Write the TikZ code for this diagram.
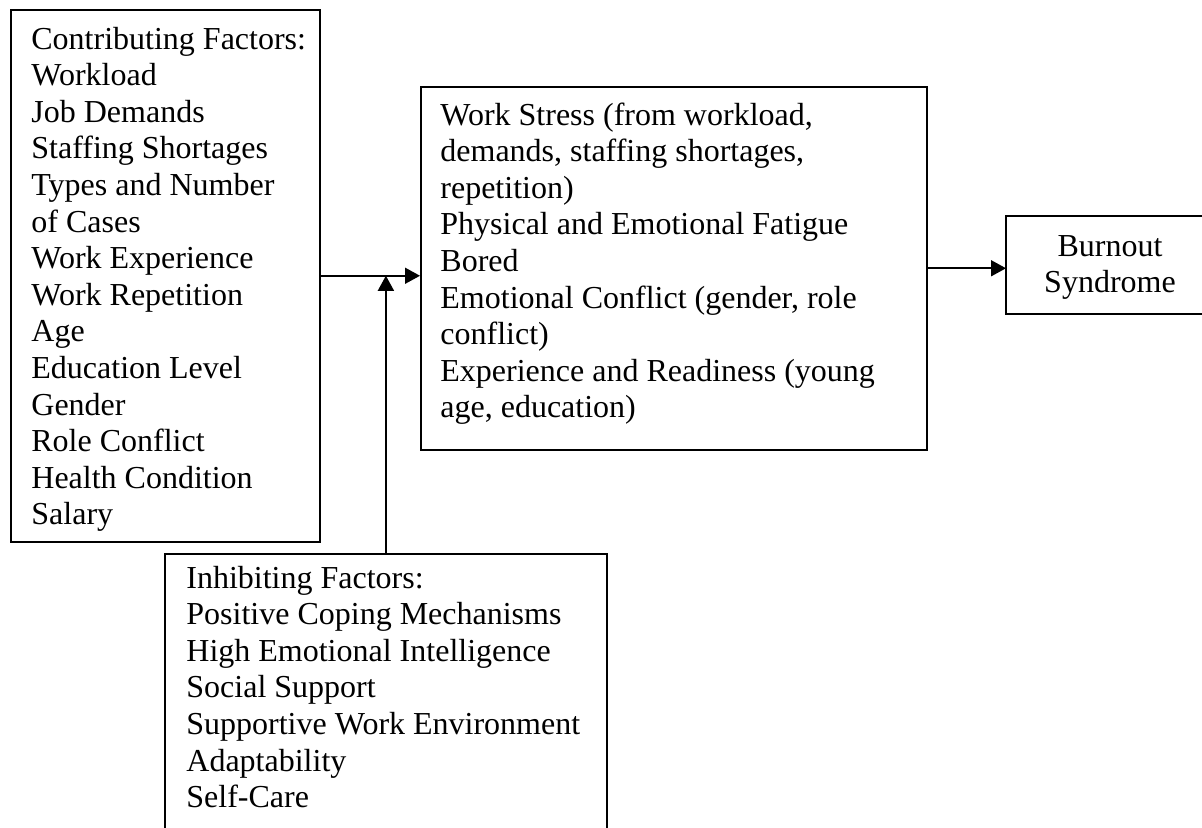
\documentclass[tikz,border=0pt]{standalone}
\usepackage{fontspec}
\setmainfont{Liberation Serif}
\usetikzlibrary{arrows.meta}
\begin{document}
\begin{tikzpicture}[x=0.5pt,y=-0.5pt,
  box/.style={draw, line width=0.75pt, inner sep=0pt, anchor=north west},
  open/.style={inner sep=0pt, anchor=north west},
  edge/.style={line width=0.75pt},
  txt/.style={inner sep=0pt, anchor=base west, font=\fontsize{16}{18.3}\selectfont},
  ctxt/.style={inner sep=0pt, anchor=base, font=\fontsize{16}{18.3}\selectfont},
  arr/.style={line width=0.8pt, -{Triangle[length=7.5pt,width=8pt]}}]
\useasboundingbox (0,0) rectangle (1202,827);
% boxes
\node[box, minimum width=154.5pt, minimum height=266pt] (A) at (10,9) {};
\node[box, minimum width=253pt, minimum height=181.5pt] (B) at (420,86) {};
\node[open, minimum width=98pt, minimum height=48.5pt] (C) at (1006,216) {};
\node[open, minimum width=220.5pt, minimum height=137pt] (D) at (165,554) {};
\draw[edge] (C.north east) -- (C.north west) -- (C.south west) -- (C.south east);
\draw[edge] (D.south west) -- (D.north west) -- (D.north east) -- (D.south east);
% texts
\node[txt] (tA) at (31,49) {\parbox[t]{300pt}{\raggedright Contributing Factors:\\Workload\\Job Demands\\Staffing Shortages\\Types and Number\\of Cases\\Work Experience\\Work Repetition\\Age\\Education Level\\Gender\\Role Conflict\\Health Condition\\Salary}};
\node[txt] (tB) at (440,125) {\parbox[t]{400pt}{\raggedright Work Stress (from workload,\\demands, staffing shortages,\\repetition)\\Physical and Emotional Fatigue\\Bored\\Emotional Conflict (gender, role\\conflict)\\Experience and Readiness (young\\age, education)}};
\node[ctxt] (tC) at (1110,256) {\parbox[t]{100pt}{\centering Burnout\\Syndrome}};
\node[txt] (tD) at (186,588) {\parbox[t]{400pt}{\raggedright Inhibiting Factors:\\Positive Coping Mechanisms\\High Emotional Intelligence\\Social Support\\Supportive Work Environment\\Adaptability\\Self-Care}};
% connectors
\draw[arr] (A.east) -- (A.east -| B.west);
\draw[arr] (D.north) -- (D.north |- A.east);
\draw[arr] (B.east) -- (B.east -| C.west);
\end{tikzpicture}
\end{document}
